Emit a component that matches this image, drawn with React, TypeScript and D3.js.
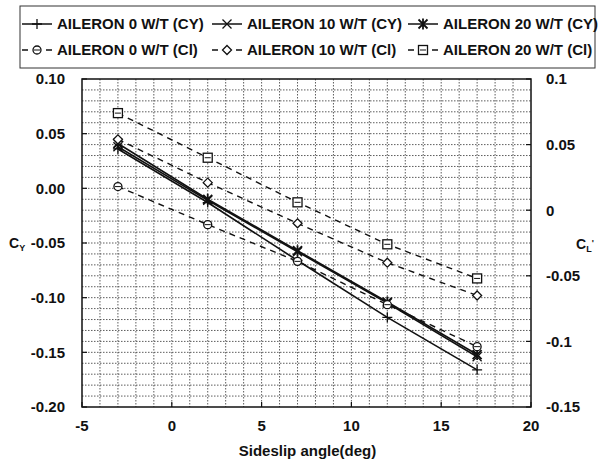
import React from 'react';
import * as d3 from 'd3';

// data
const angles = [-3, 2, 7, 12, 17];
const cy0 = [0.036, -0.013, -0.066, -0.118, -0.166];
const cy10 = [0.038, -0.011, -0.058, -0.105, -0.154];
const cy20 = [0.041, -0.010, -0.057, -0.104, -0.152];
const cl0 = [0.018, -0.011, -0.039, -0.072, -0.104];
const cl10 = [0.054, 0.021, -0.010, -0.040, -0.065];
const cl20 = [0.074, 0.040, 0.006, -0.026, -0.052];

const xTicks = [-5, 0, 5, 10, 15, 20];
const yTicks = [0.1, 0.05, 0, -0.05, -0.1, -0.15, -0.2];
const yTickLabels = ['0.10', '0.05', '0.00', '-0.05', '-0.10', '-0.15', '-0.20'];
const y2Ticks = [0.1, 0.05, 0, -0.05, -0.1, -0.15];
const y2TickLabels = ['0.1', '0.05', '0', '-0.05', '-0.1', '-0.15'];

const legendLabels = [
  'AILERON 0 W/T (CY)', 'AILERON 10 W/T (CY)', 'AILERON 20 W/T (CY)',
  'AILERON 0 W/T (Cl)', 'AILERON 10 W/T (Cl)', 'AILERON 20 W/T (Cl)',
];

const W = 599;
const H = 461;
const plot = { left: 82, right: 531, top: 79, bottom: 407 };
const font = '"Liberation Sans", Arial, sans-serif';

const x = d3.scaleLinear().domain([-5, 20]).range([plot.left, plot.right]);
const y = d3.scaleLinear().domain([-0.2, 0.1]).range([plot.bottom, plot.top]);
const y2 = d3.scaleLinear().domain([-0.15, 0.1]).range([plot.bottom, plot.top]);

type MarkerKind = 'plus' | 'x' | 'star' | 'circle' | 'diamond' | 'square';

function Marker({ kind, cx, cy }: { kind: MarkerKind; cx: number; cy: number }) {
  const s = 4.5;
  const st = { stroke: '#111', strokeWidth: 1.3, fill: 'none' };
  if (kind === 'plus') {
    return <path d={`M${cx - s - 0.5},${cy}H${cx + s + 0.5}M${cx},${cy - s - 0.5}V${cy + s + 0.5}`} {...st} />;
  }
  if (kind === 'x') {
    return <path d={`M${cx - s},${cy - s}L${cx + s},${cy + s}M${cx - s},${cy + s}L${cx + s},${cy - s}`} {...st} />;
  }
  if (kind === 'star') {
    return (
      <path
        d={`M${cx - s},${cy - s}L${cx + s},${cy + s}M${cx - s},${cy + s}L${cx + s},${cy - s}M${cx},${cy - s - 1}V${cy + s + 1}`}
        {...st}
        strokeWidth={1.8}
      />
    );
  }
  if (kind === 'circle') {
    return (
      <g>
        <circle cx={cx} cy={cy} r={4} {...st} fill="#fff" />
        <path d={`M${cx - 3},${cy}H${cx + 3}`} {...st} strokeWidth={1} />
      </g>
    );
  }
  if (kind === 'diamond') {
    return (
      <path d={`M${cx},${cy - 4.5}L${cx + 4.5},${cy}L${cx},${cy + 4.5}L${cx - 4.5},${cy}Z`} {...st} fill="#fff" />
    );
  }
  return (
    <g>
      <rect x={cx - 4.5} y={cy - 4.5} width={9} height={9} {...st} fill="#fff" />
      <path d={`M${cx - 3},${cy}H${cx + 3}`} {...st} strokeWidth={1} />
    </g>
  );
}

const series: { values: number[]; axis: 'L' | 'R'; marker: MarkerKind; dashed: boolean }[] = [
  { values: cy0, axis: 'L', marker: 'plus', dashed: false },
  { values: cy10, axis: 'L', marker: 'x', dashed: false },
  { values: cy20, axis: 'L', marker: 'star', dashed: false },
  { values: cl0, axis: 'R', marker: 'circle', dashed: true },
  { values: cl10, axis: 'R', marker: 'diamond', dashed: true },
  { values: cl20, axis: 'R', marker: 'square', dashed: true },
];

export default function App() {
  const vGrid = d3.range(-4, 20);
  const hGrid = d3.range(-19, 10).map((d) => d / 100);

  const legendX = [22, 212, 408];
  const legendY = [24, 50];

  return (
    <svg width={W} height={H} style={{ position: 'absolute', left: 0, top: 0, background: '#fff' }}>
      <rect x={0} y={0} width={W} height={H} fill="#fff" />

      {/* legend */}
      <rect x={20} y={6} width={575} height={62} fill="#fff" stroke="#333" strokeWidth={1} />
      {series.map((s, i) => {
        const lx = legendX[i % 3];
        const ly = legendY[Math.floor(i / 3)];
        return (
          <g key={`lg${i}`}>
            {s.dashed ? (
              <path d={`M${lx},${ly}H${lx + 6}M${lx + 24},${ly}H${lx + 30}`} stroke="#111" strokeWidth={1.5} />
            ) : (
              <path d={`M${lx},${ly}H${lx + 30}`} stroke="#111" strokeWidth={1.5} />
            )}
            <Marker kind={s.marker} cx={lx + 15} cy={ly} />
            <text
              x={lx + 35}
              y={ly}
              dy="0.36em"
              fontFamily={font}
              fontWeight="bold"
              fontSize={15}
              fill="#111"
            >
              {legendLabels[i]}
            </text>
          </g>
        );
      })}

      {/* grid */}
      <g stroke="#333" strokeWidth={0.8} strokeDasharray="1.5,1.5">
        {vGrid.map((d) => (
          <line key={`v${d}`} x1={x(d)} x2={x(d)} y1={plot.top} y2={plot.bottom} />
        ))}
        {hGrid.map((d) => (
          <line key={`h${d}`} x1={plot.left} x2={plot.right} y1={y(d)} y2={y(d)} />
        ))}
      </g>

      {/* series */}
      {series.map((s, i) => {
        const ys = s.axis === 'L' ? y : y2;
        const line = d3
          .line<number>()
          .x((_, j) => x(angles[j]))
          .y((v) => ys(v));
        return (
          <g key={`s${i}`}>
            <path
              d={line(s.values) || ''}
              fill="none"
              stroke="#111"
              strokeWidth={s.dashed ? 1.4 : 1.6}
              strokeDasharray={s.dashed ? '6,5' : undefined}
            />
            {s.values.map((v, j) => (
              <Marker key={j} kind={s.marker} cx={x(angles[j])} cy={ys(v)} />
            ))}
          </g>
        );
      })}

      {/* frame */}
      <rect
        x={plot.left}
        y={plot.top}
        width={plot.right - plot.left}
        height={plot.bottom - plot.top}
        fill="none"
        stroke="#111"
        strokeWidth={1.5}
      />

      {/* ticks */}
      <g stroke="#111" strokeWidth={1.2}>
        {xTicks.map((t) => (
          <line key={`xt${t}`} x1={x(t)} x2={x(t)} y1={plot.bottom} y2={plot.bottom - 5} />
        ))}
        {yTicks.map((t) => (
          <line key={`yt${t}`} x1={plot.left} x2={plot.left + 5} y1={y(t)} y2={y(t)} />
        ))}
        {y2Ticks.map((t) => (
          <line key={`y2t${t}`} x1={plot.right} x2={plot.right - 5} y1={y2(t)} y2={y2(t)} />
        ))}
      </g>

      <g fontFamily={font} fontWeight="bold" fontSize={15} fill="#111">
        {xTicks.map((t) => (
          <text key={`xl${t}`} x={x(t)} y={426} dy="0.36em" textAnchor="middle">
            {t}
          </text>
        ))}
        {yTicks.map((t, i) => (
          <text key={`yl${t}`} x={65} y={y(t)} dy="0.36em" textAnchor="end">
            {yTickLabels[i]}
          </text>
        ))}
        {y2Ticks.map((t, i) => (
          <text key={`y2l${t}`} x={546} y={y2(t)} dy="0.36em" textAnchor="start">
            {y2TickLabels[i]}
          </text>
        ))}
        <text x={(plot.left + plot.right) / 2 + 1} y={451} dy="0.36em" textAnchor="middle">
          Sideslip angle(deg)
        </text>
        <text x={9} y={243} dy="0.36em" fontSize={14}>
          C<tspan fontSize={9} dy={3}>Y</tspan>
        </text>
        <text x={576} y={244} dy="0.36em" fontSize={14}>
          C<tspan fontSize={9} dy={3}>L</tspan>
          <tspan fontSize={9} dy={-6}>'</tspan>
        </text>
      </g>
    </svg>
  );
}
